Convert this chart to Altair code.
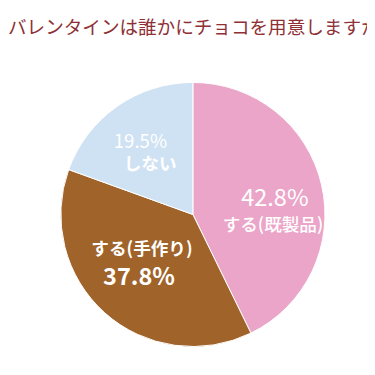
import altair as alt
import pandas as pd

title_text = "バレンタインは誰かにチョコを用意しますか？"
categories = ["する(既製品)", "する(手作り)", "しない"]
values = [42.8, 37.8, 19.5]
pct_labels = ["42.8%", "37.8%", "19.5%"]
colors = ["#EBA5C8", "#A0632A", "#CFE2F3"]

df = pd.DataFrame({
    "idx": list(range(len(categories))),
    "category": categories,
    "value": values,
    "pct": pct_labels,
})
total = sum(values)

CX, CY, R = 189, 162, 135
FONT = "Noto Sans CJK JP"

theta_scale = alt.Scale(domain=[0, total])

arcs = alt.Chart(df).mark_arc(radius=R, stroke="white", strokeWidth=1).encode(
    theta=alt.Theta("value:Q", stack=True, scale=theta_scale),
    color=alt.Color("category:N", scale=alt.Scale(domain=categories, range=colors), legend=None),
    order=alt.Order("idx:Q"),
    x=alt.value(CX),
    y=alt.value(CY),
)

base_text = alt.Chart(df).transform_window(
    cum="sum(value)", sort=[alt.SortField("idx")]
).transform_calculate(
    mid="datum.cum - datum.value / 2"
)


def label(cat, field, r, dx, dy, size, weight):
    return base_text.transform_filter(
        alt.datum.category == cat
    ).mark_text(
        radius=r, dx=dx, dy=dy, font=FONT, fontSize=size, fontWeight=weight,
        color="white", baseline="middle", align="center",
    ).encode(
        theta=alt.Theta("mid:Q", scale=theta_scale),
        text=alt.Text(field),
        x=alt.value(CX),
        y=alt.value(CY),
    )


layers = [
    arcs,
    label(categories[0], "pct:N", 84, 2, 3, 24, "normal"),
    label(categories[0], "category:N", 84, 0, 31, 18, 500),
    label(categories[1], "category:N", 72, -4, -17, 18, "bold"),
    label(categories[1], "pct:N", 72, -7, 12, 24, "bold"),
    label(categories[2], "pct:N", 76, -10, -12, 19, "normal"),
    label(categories[2], "category:N", 76, 0, 12, 18, "bold"),
]

chart = alt.layer(*layers).properties(
    width=367,
    height=322,
    background="white",
    padding={"top": 45, "left": 0, "right": 0, "bottom": 0},
    autosize=alt.AutoSizeParams(type="none"),
    title=alt.Title(
        title_text, anchor="start", frame="group", offset=3, baseline="alphabetic",
        font=FONT, fontSize=19, fontWeight="normal", color="#8E3036",
    ),
).configure_view(strokeWidth=0, stroke="transparent")

chart.save("out.html", embed_options={"renderer": "svg", "actions": False})
